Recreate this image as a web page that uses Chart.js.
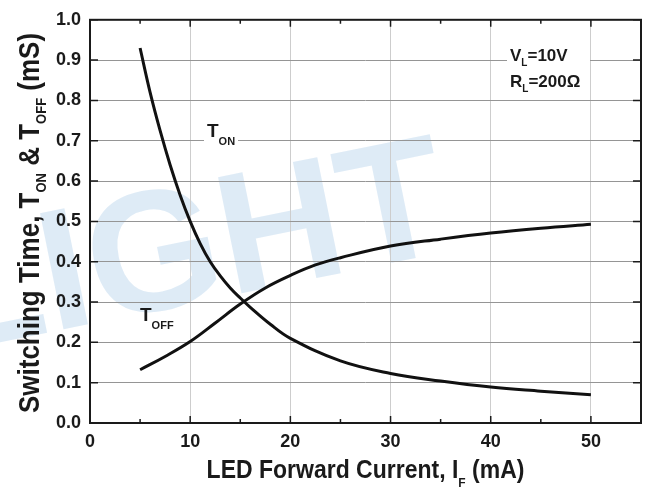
<!DOCTYPE html>
<html>
<head>
<meta charset="utf-8">
<script src="https://cdn.jsdelivr.net/npm/chart.js@4.4.1/dist/chart.umd.min.js"></script>
<style>
  html, body { margin: 0; padding: 0; background: #fff; }
  #wrap { width: 648px; height: 489px; }
</style>
</head>
<body>
<div id="wrap"><canvas id="chart" width="648" height="489"></canvas></div>
<script>
// values
const currentOn = [5, 6, 7, 8, 9, 10, 11, 12, 13, 14, 15, 16, 18, 20, 25, 30, 35, 40, 45, 50];
const tOn = [0.93, 0.82, 0.725, 0.64, 0.565, 0.50, 0.445, 0.40, 0.365, 0.335, 0.31, 0.287, 0.245, 0.21, 0.154, 0.123, 0.104, 0.089, 0.079, 0.070];
const currentOff = [5, 7.5, 10, 12.5, 15, 17.5, 20, 22.5, 25, 30, 35, 40, 45, 50];
const tOff = [0.132, 0.165, 0.202, 0.248, 0.295, 0.335, 0.366, 0.392, 0.41, 0.439, 0.456, 0.471, 0.483, 0.493];
const xTicks = [0, 10, 20, 30, 40, 50];
const xMinor = [5, 15, 25, 35, 45];
const yTicks = [0, 0.1, 0.2, 0.3, 0.4, 0.5, 0.6, 0.7, 0.8, 0.9, 1.0];

const FONT = "'Liberation Sans', Arial, Helvetica, sans-serif";
const INK = "#1a1a1a";

function toPoints(xs, ys) {
  return xs.map((x, i) => ({ x, y: ys[i] }));
}

// text with subscripts; parts = [[text, isSub], ...]
function richWidth(ctx, parts, size, subSize) {
  let w = 0;
  parts.forEach(([t, sub]) => {
    ctx.font = `bold ${sub ? subSize : size}px ${FONT}`;
    w += ctx.measureText(t).width;
  });
  return w;
}
function drawRich(ctx, parts, size, subSize, subDrop) {
  let x = 0;
  parts.forEach(([t, sub]) => {
    ctx.font = `bold ${sub ? subSize : size}px ${FONT}`;
    ctx.fillText(t, x, sub ? subDrop : 0);
    x += ctx.measureText(t).width;
  });
}

const paperPlugin = {
  id: "paper",
  beforeDraw(chart) {
    const ctx = chart.ctx;
    ctx.save();
    ctx.fillStyle = "#fff";
    ctx.fillRect(0, 0, chart.width, chart.height);
    // faint watermark behind the grid
    ctx.translate(455, 250);
    ctx.rotate(-0.2);
    ctx.font = `bold 172px ${FONT}`;
    ctx.fillStyle = "rgba(200, 222, 240, 0.6)";
    ctx.textAlign = "right";
    ctx.textBaseline = "alphabetic";
    ctx.fillText("EVERLIGHT", 0, 0);
    ctx.restore();
  }
};

const framePlugin = {
  id: "frame",
  afterDatasetsDraw(chart) {
    const { ctx, chartArea: a, scales } = chart;
    ctx.save();
    ctx.strokeStyle = INK;
    ctx.lineWidth = 1.5;
    ctx.beginPath();
    xTicks.forEach(v => {
      const px = scales.x.getPixelForValue(v);
      ctx.moveTo(px, a.bottom); ctx.lineTo(px, a.bottom - 7);
      ctx.moveTo(px, a.top); ctx.lineTo(px, a.top + 7);
    });
    xMinor.forEach(v => {
      const px = scales.x.getPixelForValue(v);
      ctx.moveTo(px, a.bottom); ctx.lineTo(px, a.bottom - 4);
      ctx.moveTo(px, a.top); ctx.lineTo(px, a.top + 4);
    });
    yTicks.forEach(v => {
      const py = scales.y.getPixelForValue(v);
      ctx.moveTo(a.left, py); ctx.lineTo(a.left + 8, py);
      ctx.moveTo(a.right, py); ctx.lineTo(a.right - 8, py);
    });
    ctx.stroke();
    ctx.lineWidth = 2;
    ctx.strokeRect(a.left, a.top, a.right - a.left, a.bottom - a.top);
    ctx.restore();
  },
  afterDraw(chart) {
    const { ctx, chartArea: a } = chart;
    ctx.save();
    ctx.fillStyle = INK;
    ctx.textBaseline = "alphabetic";
    ctx.textAlign = "left";

    // x axis title
    const xParts = [["LED Forward Current, I", false], ["F", true], [" (mA)", false]];
    const xw = richWidth(ctx, xParts, 23, 12);
    ctx.save();
    ctx.translate((a.left + a.right) / 2 - xw / 2, 478);
    ctx.scale(1, 1.14);
    drawRich(ctx, xParts, 23, 12, 7.5);
    ctx.restore();

    // y axis title
    const yParts = [["Switching Time, T", false], ["ON", true], [" & T", false], ["OFF", true], [" (mS)", false]];
    const yw = richWidth(ctx, yParts, 26, 13);
    ctx.save();
    ctx.translate(39, 223);
    ctx.rotate(-Math.PI / 2);
    ctx.scale(1, 1.12);
    ctx.translate(-yw / 2, 0);
    drawRich(ctx, yParts, 26, 13, 6);
    ctx.restore();

    // condition box
    ctx.fillStyle = "#fff";
    ctx.fillRect(507, 44, 83, 56);
    ctx.fillStyle = INK;
    ctx.save();
    ctx.translate(510, 61);
    drawRich(ctx, [["V", false], ["L", true], ["=10V", false]], 17, 10, 5);
    ctx.restore();
    ctx.save();
    ctx.translate(510, 87);
    drawRich(ctx, [["R", false], ["L", true], ["=200\u03A9", false]], 17, 10, 5);
    ctx.restore();

    // curve labels
    ctx.fillStyle = "#fff";
    ctx.fillRect(204, 121, 34, 27);
    ctx.fillStyle = INK;
    ctx.save();
    ctx.translate(207, 137);
    drawRich(ctx, [["T", false], ["ON", true]], 19, 11, 8);
    ctx.restore();
    ctx.save();
    ctx.translate(140, 321);
    drawRich(ctx, [["T", false], ["OFF", true]], 19, 11, 8);
    ctx.restore();

    ctx.restore();
  }
};

const ctx = document.getElementById("chart").getContext("2d");
new Chart(ctx, {
  type: "line",
  data: {
    datasets: [
      {
        label: "T_ON",
        data: toPoints(currentOn, tOn),
        borderColor: "#111",
        borderWidth: 3,
        pointRadius: 0,
        tension: 0.4,
        fill: false
      },
      {
        label: "T_OFF",
        data: toPoints(currentOff, tOff),
        borderColor: "#111",
        borderWidth: 3,
        pointRadius: 0,
        tension: 0.4,
        fill: false
      }
    ]
  },
  options: {
    responsive: false,
    animation: false,
    devicePixelRatio: 1,
    layout: { padding: { top: 15, right: 7, left: 0, bottom: 0 } },
    plugins: {
      legend: { display: false },
      tooltip: { enabled: false }
    },
    scales: {
      x: {
        type: "linear",
        min: 0,
        max: 55,
        afterBuildTicks: s => { s.ticks = xTicks.map(v => ({ value: v })); },
        afterFit: s => { s.height = 66; },
        grid: { color: "#cdcdcd", lineWidth: 1, drawTicks: false },
        border: { display: false },
        ticks: {
          padding: 8,
          color: INK,
          font: { family: FONT, size: 18, weight: "bold" }
        }
      },
      y: {
        type: "linear",
        min: 0,
        max: 1,
        afterBuildTicks: s => { s.ticks = yTicks.map(v => ({ value: v })); },
        afterFit: s => { s.width = 90; },
        grid: { color: "#959595", lineWidth: 1, drawTicks: false },
        border: { display: false },
        ticks: {
          padding: 9,
          color: INK,
          font: { family: FONT, size: 18, weight: "bold" },
          callback: v => Number(v).toFixed(1)
        }
      }
    }
  },
  plugins: [paperPlugin, framePlugin]
});
</script>
</body>
</html>
